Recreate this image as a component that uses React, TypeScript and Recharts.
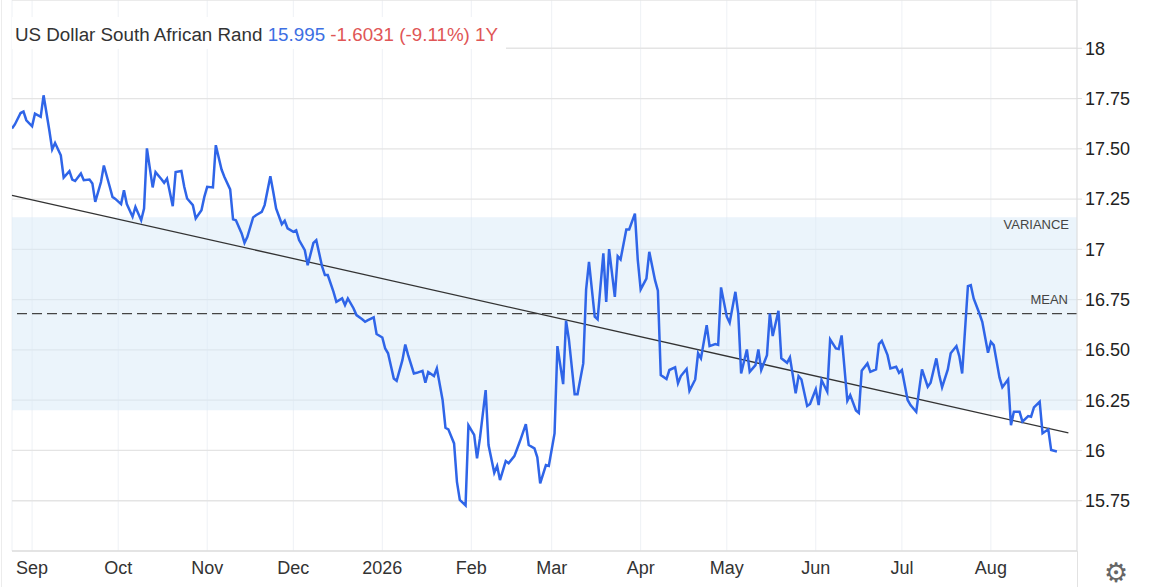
import {
  CartesianGrid,
  Label,
  Line,
  LineChart,
  ReferenceArea,
  ReferenceLine,
  XAxis,
  YAxis,
} from "recharts";

// daily USD/ZAR closes
const dates = [
  "2025-08-25", "2025-08-26", "2025-08-28", "2025-08-29", "2025-08-30",
  "2025-09-01", "2025-09-02", "2025-09-04", "2025-09-05", "2025-09-07", "2025-09-08", "2025-09-09",
  "2025-09-11", "2025-09-12", "2025-09-14", "2025-09-15", "2025-09-16", "2025-09-18", "2025-09-19",
  "2025-09-21", "2025-09-22", "2025-09-23", "2025-09-25", "2025-09-26", "2025-09-28", "2025-09-29",
  "2025-09-30",
  "2025-10-02", "2025-10-03", "2025-10-04", "2025-10-06", "2025-10-07", "2025-10-09", "2025-10-10",
  "2025-10-11", "2025-10-13", "2025-10-14", "2025-10-16", "2025-10-17", "2025-10-18", "2025-10-20",
  "2025-10-21", "2025-10-23", "2025-10-24", "2025-10-25", "2025-10-27", "2025-10-28", "2025-10-30",
  "2025-10-31",
  "2025-11-01", "2025-11-03", "2025-11-04", "2025-11-06", "2025-11-07", "2025-11-09", "2025-11-10",
  "2025-11-11", "2025-11-13", "2025-11-14", "2025-11-15", "2025-11-17", "2025-11-18", "2025-11-20",
  "2025-11-21", "2025-11-23", "2025-11-24", "2025-11-25", "2025-11-27", "2025-11-28", "2025-11-29",
  "2025-12-01", "2025-12-02", "2025-12-03", "2025-12-05", "2025-12-06", "2025-12-08", "2025-12-09",
  "2025-12-11", "2025-12-12", "2025-12-13", "2025-12-15", "2025-12-16", "2025-12-18", "2025-12-19",
  "2025-12-20", "2025-12-22", "2025-12-23", "2025-12-25", "2025-12-26", "2025-12-27", "2025-12-29",
  "2025-12-30",
  "2026-01-01", "2026-01-02", "2026-01-03", "2026-01-05", "2026-01-06", "2026-01-08", "2026-01-09",
  "2026-01-10", "2026-01-12", "2026-01-13", "2026-01-15", "2026-01-16", "2026-01-17", "2026-01-19",
  "2026-01-20", "2026-01-22", "2026-01-23", "2026-01-24", "2026-01-26", "2026-01-27", "2026-01-28",
  "2026-01-30", "2026-01-31",
  "2026-02-02", "2026-02-03", "2026-02-04", "2026-02-06", "2026-02-07", "2026-02-09", "2026-02-10",
  "2026-02-11", "2026-02-13", "2026-02-14", "2026-02-16", "2026-02-17", "2026-02-18", "2026-02-20",
  "2026-02-21", "2026-02-23", "2026-02-24", "2026-02-25", "2026-02-27", "2026-02-28",
  "2026-03-02", "2026-03-03", "2026-03-05", "2026-03-06", "2026-03-07", "2026-03-09", "2026-03-10",
  "2026-03-12", "2026-03-13", "2026-03-14", "2026-03-16", "2026-03-17", "2026-03-19", "2026-03-20",
  "2026-03-21", "2026-03-23", "2026-03-24", "2026-03-25", "2026-03-27", "2026-03-28", "2026-03-30",
  "2026-03-31",
  "2026-04-01", "2026-04-03", "2026-04-04", "2026-04-06", "2026-04-07", "2026-04-08", "2026-04-10",
  "2026-04-11", "2026-04-13", "2026-04-14", "2026-04-15", "2026-04-17", "2026-04-18", "2026-04-20",
  "2026-04-21", "2026-04-22", "2026-04-24", "2026-04-25", "2026-04-27", "2026-04-28", "2026-04-29",
  "2026-05-01", "2026-05-02", "2026-05-04", "2026-05-05", "2026-05-06", "2026-05-08", "2026-05-09",
  "2026-05-11", "2026-05-12", "2026-05-13", "2026-05-15", "2026-05-16", "2026-05-17", "2026-05-19",
  "2026-05-20", "2026-05-22", "2026-05-23", "2026-05-25", "2026-05-26", "2026-05-27", "2026-05-29",
  "2026-05-30",
  "2026-06-01", "2026-06-02", "2026-06-03", "2026-06-05", "2026-06-06", "2026-06-08", "2026-06-09",
  "2026-06-10", "2026-06-12", "2026-06-13", "2026-06-15", "2026-06-16", "2026-06-17", "2026-06-19",
  "2026-06-20", "2026-06-22", "2026-06-23", "2026-06-24", "2026-06-26", "2026-06-27", "2026-06-29",
  "2026-06-30",
  "2026-07-01", "2026-07-03", "2026-07-04", "2026-07-06", "2026-07-07", "2026-07-08", "2026-07-10",
  "2026-07-11", "2026-07-13", "2026-07-14", "2026-07-15", "2026-07-17", "2026-07-18", "2026-07-20",
  "2026-07-21", "2026-07-22", "2026-07-24", "2026-07-25", "2026-07-26", "2026-07-28", "2026-07-29",
  "2026-07-31",
  "2026-08-01", "2026-08-02", "2026-08-04", "2026-08-05", "2026-08-07", "2026-08-08", "2026-08-09",
  "2026-08-11", "2026-08-12", "2026-08-14", "2026-08-15", "2026-08-16", "2026-08-18", "2026-08-19",
  "2026-08-21", "2026-08-22", "2026-08-24",
];

const closes = [
  17.601, 17.621, 17.678, 17.685, 17.642,
  17.612, 17.675, 17.659, 17.766, 17.592, 17.497, 17.529,
  17.468, 17.357, 17.389, 17.347, 17.34, 17.377, 17.344,
  17.347, 17.328, 17.236, 17.335, 17.417, 17.314, 17.261,
  17.251,
  17.225, 17.294, 17.225, 17.162, 17.211, 17.145, 17.203,
  17.502, 17.308, 17.384, 17.35, 17.331, 17.352, 17.215,
  17.384, 17.39, 17.311, 17.253, 17.22, 17.154, 17.195,
  17.261,
  17.311, 17.308, 17.518, 17.397, 17.36, 17.298, 17.149,
  17.145, 17.079, 17.032, 17.062, 17.159, 17.17, 17.186,
  17.22, 17.364, 17.286, 17.203, 17.125, 17.142, 17.104,
  17.087, 17.095, 17.046, 16.996, 16.921, 17.032, 17.046,
  16.916, 16.872, 16.872, 16.789, 16.739, 16.756, 16.723,
  16.756, 16.706, 16.673, 16.652, 16.64, 16.648, 16.662,
  16.579,
  16.562, 16.507, 16.483, 16.358, 16.346, 16.449, 16.527,
  16.474, 16.383, 16.386, 16.396, 16.337, 16.39, 16.37,
  16.408, 16.251, 16.113, 16.105, 16.035, 15.844, 15.754,
  15.727, 16.125,
  16.077, 15.961, 16.06, 16.3, 16.027, 15.889, 15.923,
  15.853, 15.947, 15.936, 15.972, 16.01, 16.048, 16.131,
  16.027, 16.01, 15.966, 15.836, 15.927, 15.923,
  16.085, 16.519, 16.33, 16.645, 16.552, 16.28, 16.28,
  16.433, 16.801, 16.938, 16.665, 16.652, 16.98, 16.739,
  17.001, 16.764, 16.966, 16.95, 17.099, 17.099, 17.178,
  16.946,
  16.801, 16.855, 16.988, 16.847, 16.794, 16.375, 16.355,
  16.4, 16.413, 16.334, 16.37, 16.405, 16.297, 16.353,
  16.483, 16.458, 16.623, 16.519, 16.529, 16.525, 16.811,
  16.665, 16.635, 16.789, 16.681, 16.383, 16.502, 16.391,
  16.424, 16.502, 16.4, 16.474, 16.681, 16.569, 16.694,
  16.458, 16.436, 16.463, 16.284, 16.37, 16.353, 16.221,
  16.231,
  16.304, 16.226, 16.35, 16.292, 16.552, 16.507, 16.504,
  16.572, 16.247, 16.275, 16.199, 16.187, 16.396, 16.433,
  16.391, 16.403, 16.529, 16.545, 16.474, 16.408, 16.416,
  16.386,
  16.4, 16.251, 16.226, 16.192, 16.3, 16.403, 16.317,
  16.337, 16.458, 16.375, 16.314, 16.403, 16.483, 16.519,
  16.469, 16.383, 16.817, 16.822, 16.756, 16.681, 16.64,
  16.486,
  16.54, 16.524, 16.363, 16.314, 16.353, 16.126, 16.192,
  16.192, 16.143, 16.171, 16.168, 16.214, 16.242, 16.085,
  16.105, 16.002, 15.995,
];

const xRange = ["2025-08-25", "2026-08-31"];
const monthTicks = [
  "2025-09-01", "2025-10-01", "2025-11-01", "2025-12-01", "2026-01-01", "2026-02-01",
  "2026-03-01", "2026-04-01", "2026-05-01", "2026-06-01", "2026-07-01", "2026-08-01",
];
const monthLabels = ["Sep", "Oct", "Nov", "Dec", "2026", "Feb", "Mar", "Apr", "May", "Jun", "Jul", "Aug"];

const priceTicks = [15.75, 16, 16.25, 16.5, 16.75, 17, 17.25, 17.5, 17.75, 18];
const priceLabels = ["15.75", "16", "16.25", "16.50", "16.75", "17", "17.25", "17.50", "17.75", "18"];

const meanValue = 16.68;
const varianceBand = [16.2, 17.16];
const trendDates = ["2025-08-25", "2026-08-28"];
const trendValues = [17.269, 16.087];

const toTime = (d: string) => Date.parse(d);
const data = dates.map((d, i) => ({ t: toTime(d), close: closes[i] }));
const tickTimes = monthTicks.map(toTime);

const FONT = "'Liberation Sans', Arial, sans-serif";

const VarianceTag = (props: any) => {
  const vb = props.viewBox || { x: 0, y: 0, width: 0 };
  return (
    <text x={vb.x + vb.width - 8} y={vb.y + 12} textAnchor="end" fontSize={13} fill="#444" fontFamily={FONT}>
      VARIANCE
    </text>
  );
};

const MeanTag = (props: any) => {
  const vb = props.viewBox || { x: 0, y: 0, width: 0 };
  return (
    <text x={vb.x + vb.width - 9} y={vb.y - 10} textAnchor="end" fontSize={13} fill="#444" fontFamily={FONT}>
      MEAN
    </text>
  );
};

export default function App() {
  return (
    <div style={{ position: "absolute", left: 0, top: 0, width: 1152, height: 587, background: "#fff", fontFamily: FONT }}>
      <LineChart
        width={1152}
        height={587}
        data={data}
        margin={{ top: 0, right: 0, bottom: 0, left: 12 }}
        style={{ fontFamily: FONT }}
      >
        <ReferenceArea
          y1={varianceBand[0]}
          y2={varianceBand[1]}
          fill="#d7e9f7"
          fillOpacity={0.5}
          stroke="none"
        >
          <Label content={VarianceTag} />
        </ReferenceArea>
        <CartesianGrid horizontal={false} stroke="#eef1f5" strokeWidth={1} />
        <CartesianGrid vertical={false} stroke="#e4e4e4" strokeWidth={1.3} />
        <XAxis
          type="number"
          dataKey="t"
          domain={xRange.map(toTime)}
          ticks={tickTimes}
          tickFormatter={(t: number) => monthLabels[tickTimes.indexOf(t)] ?? ""}
          interval={0}
          height={36}
          axisLine={{ stroke: "#dddddd" }}
          tickLine={false}
          tickMargin={4}
          tick={{ fill: "#333", fontSize: 18 }}
          allowDataOverflow
        />
        <YAxis
          orientation="right"
          width={75}
          domain={[15.5, 18.24]}
          ticks={priceTicks}
          tickFormatter={(v: number) => priceLabels[priceTicks.indexOf(v)] ?? ""}
          interval={0}
          axisLine={{ stroke: "#dddddd" }}
          tickLine={{ stroke: "#dddddd" }}
          tickSize={5}
          tickMargin={3}
          tick={{ fill: "#222", fontSize: 18 }}
          allowDataOverflow
        />
        <ReferenceLine y={meanValue} stroke="#444" strokeWidth={1.2} strokeDasharray="10 5">
          <Label content={MeanTag} />
        </ReferenceLine>
        <ReferenceLine
          segment={[
            { x: toTime(trendDates[0]), y: trendValues[0] },
            { x: toTime(trendDates[1]), y: trendValues[1] },
          ]}
          stroke="#333"
          strokeWidth={1.3}
        />
        <Line
          type="linear"
          dataKey="close"
          stroke="#2f65e8"
          strokeWidth={2.5}
          dot={false}
          activeDot={false}
          isAnimationActive={false}
        />
      </LineChart>

      <div
        style={{
          position: "absolute",
          left: 12,
          top: 17,
          padding: "7px 8px 4px 3px",
          background: "#fff",
          fontSize: 18.8,
          color: "#333",
          whiteSpace: "nowrap",
          lineHeight: "21px",
        }}
      >
        US Dollar South African Rand <span style={{ color: "#3d6fe3" }}>15.995</span>{" "}
        <span style={{ color: "#e05656" }}>-1.6031 (-9.11%) 1Y</span>
      </div>

      <div style={{ position: "absolute", left: 1077, top: 551, width: 1, height: 36, background: "#e2e2e2" }} />
      <div style={{ position: "absolute", left: 1, top: 0, width: 1, height: 587, background: "#ececec" }} />
      <div
        style={{
          position: "absolute",
          left: 1104,
          top: 557,
          fontSize: 27,
          color: "#666",
          fontFamily: "'DejaVu Sans', sans-serif",
          lineHeight: "32px",
        }}
      >
        ⚙
      </div>
    </div>
  );
}
